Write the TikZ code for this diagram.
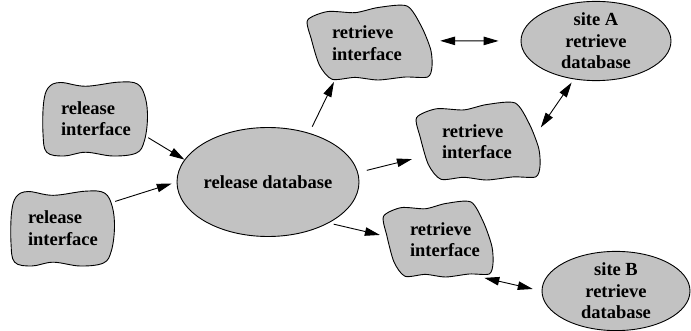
\documentclass[tikz,border=0pt]{standalone}
\usepackage{fontspec}
\setmainfont{Liberation Serif}
\usetikzlibrary{shapes.geometric,arrows.meta}
\definecolor{shade}{RGB}{194,194,194}
\pgfdeclarelayer{bg}
\pgfsetlayers{bg,main}
\begin{document}
\begin{tikzpicture}[x=1pt,y=-1pt,
  lbl/.style={font=\fontsize{18.5}{21.5}\selectfont\bfseries},
  blobnode/.style={lbl, align=left, inner ysep=0pt},
  ellnode/.style={lbl, align=center, ellipse, draw, line width=0.9pt, fill=shade, inner sep=0pt},
  blob/.style={draw, line width=0.9pt, fill=shade},
  relpic/.pic={\path[blob] plot[smooth cycle, tension=0.6] coordinates {
     (-0.9,-0.82) (-0.67,-0.96) (-0.19,-0.86) (0.44,-0.97) (0.8,-0.92)
     (0.95,-0.55) (0.99,0) (0.93,0.6) (0.78,0.92) (0.33,1.0) (-0.19,0.9)
     (-0.6,1.0) (-0.93,0.9) (-1,0.4) (-0.99,-0.4)};},
  retpic/.pic={\path[blob] plot[smooth cycle, tension=0.45] coordinates {
     (-0.99,-0.62) (-0.67,-0.85) (-0.23,-0.82) (0.14,-0.96) (0.6,-1.0)
     (0.83,-0.45) (0.98,0.18) (1.0,0.64) (0.93,0.92) (0.57,0.92) (0.14,1.0)
     (-0.23,0.93) (-0.6,0.98) (-0.8,0.6) (-0.93,-0.1)};},
  tip/.tip={Triangle[length=15pt,width=8.5pt]},
  arr/.style={-tip, line width=0.9pt},
  darr/.style={tip-tip, line width=0.9pt}]
\useasboundingbox (0,0) rectangle (691,331);

% blob nodes (bounding boxes of the wavy shapes)
\node[blobnode, minimum width=105pt, minimum height=75pt, inner xsep=18pt, text width=69pt]
  (rel1) at (95.5,118.5) {\mbox{release}\\\mbox{interface}};
\node[blobnode, minimum width=104pt, minimum height=76pt, inner xsep=17pt, text width=70pt]
  (rel2) at (63,228) {\mbox{release}\\\mbox{interface}};
\node[blobnode, minimum width=125pt, minimum height=74pt, inner xsep=25pt, text width=75pt]
  (ret1) at (369.5,43) {\mbox{retrieve}\\\mbox{interface}};
\node[blobnode, minimum width=124pt, minimum height=77pt, inner xsep=26pt, text width=72pt]
  (ret2) at (478,141.5) {\mbox{retrieve}\\\mbox{interface}};
\node[blobnode, minimum width=110pt, minimum height=75pt, inner xsep=27pt, text width=56pt]
  (ret3) at (438,239.5) {\mbox{retrieve}\\\mbox{interface}};

% ellipses
\node[ellnode, minimum width=182pt, minimum height=109pt] (db) at (268,182) {release database};
\node[ellnode, minimum width=150pt, minimum height=77pt] (siteA) at (596,41) {site A\\retrieve\\database};
\node[ellnode, minimum width=148pt, minimum height=78pt] (siteB) at (616,291) {site B\\retrieve\\database};

\begin{pgfonlayer}{bg}
  \pic[xscale=52.5, yscale=37.5] at (rel1.center) {relpic};
  \pic[xscale=52, yscale=38] at (rel2.center) {relpic};
  \pic[xscale=62.5, yscale=37] at (ret1.center) {retpic};
  \pic[xscale=62, yscale=38.5] at (ret2.center) {retpic};
  \pic[xscale=55, yscale=37.5] at (ret3.center) {retpic};
\end{pgfonlayer}

% connectors
\draw[arr] (rel1.-20) -- (db.165);
\draw[arr, shorten >=5pt] (rel2.27) -- (db.180);
\draw[arr, shorten <=7pt, shorten >=2pt] (db.50) -- (ret1.227);
\draw[darr, shorten <=8pt, shorten >=22pt] (ret1.2) -- (siteA.west);
\draw[darr, shorten <=4pt, shorten >=1pt] (siteA.240) -- (ret2.12);
\draw[arr, shorten <=9pt, shorten >=4pt] (db.6) -- (ret2.195);
\draw[arr, shorten <=5pt, shorten >=3pt] (db.-34) -- (ret3.176);
\draw[darr, shorten <=3pt, shorten >=9pt] (ret3.-41) -- (siteB.west);
\end{tikzpicture}
\end{document}
